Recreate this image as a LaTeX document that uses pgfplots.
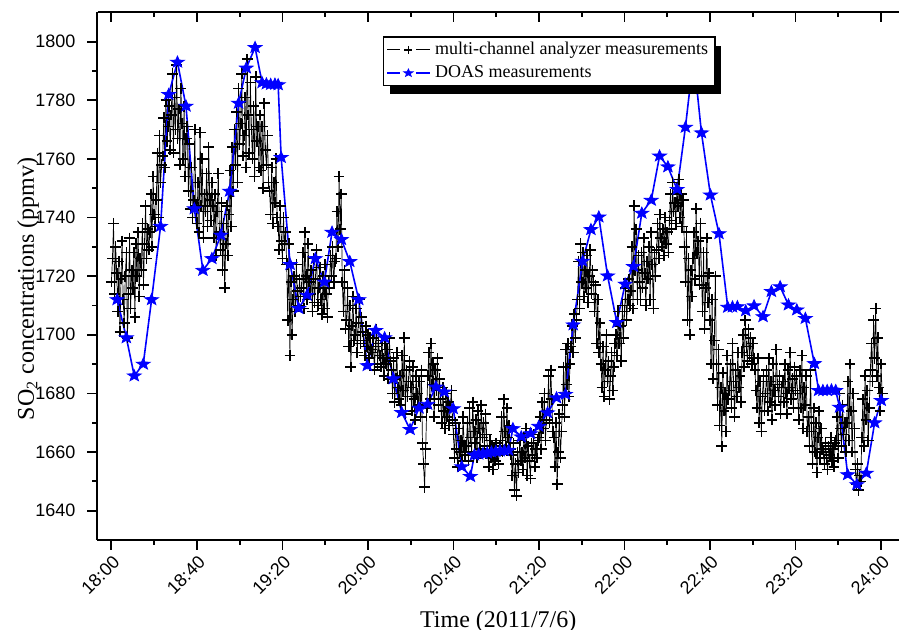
\documentclass[border=0pt]{standalone}
\usepackage{fontspec}
\setmainfont{Liberation Serif}
\setsansfont{Liberation Sans}
\usepackage{pgfplots}
\pgfplotsset{compat=1.18}
\pgfdeclareplotmark{fstar}{%
  \pgfpathmoveto{\pgfpointpolar{90}{\pgfplotmarksize}}%
  \pgfpathlineto{\pgfpointpolar{126}{0.42\pgfplotmarksize}}%
  \pgfpathlineto{\pgfpointpolar{162}{\pgfplotmarksize}}%
  \pgfpathlineto{\pgfpointpolar{198}{0.42\pgfplotmarksize}}%
  \pgfpathlineto{\pgfpointpolar{234}{\pgfplotmarksize}}%
  \pgfpathlineto{\pgfpointpolar{270}{0.42\pgfplotmarksize}}%
  \pgfpathlineto{\pgfpointpolar{306}{\pgfplotmarksize}}%
  \pgfpathlineto{\pgfpointpolar{342}{0.42\pgfplotmarksize}}%
  \pgfpathlineto{\pgfpointpolar{18}{\pgfplotmarksize}}%
  \pgfpathlineto{\pgfpointpolar{54}{0.42\pgfplotmarksize}}%
  \pgfpathclose\pgfusepathqfillstroke}
\definecolor{doas}{RGB}{0,0,255}
\begin{document}
\begin{tikzpicture}
\begin{axis}[
  at={(0,0)}, anchor=south west,
  scale only axis, width=400.75pt, height=263.85pt,
  xmin=-6.5, xmax=368.4, ymin=1630, ymax=1810,
  axis x line*=bottom, axis y line*=left,
  axis line style={line width=1pt, black},
  every tick/.style={black, line width=0.9pt},
  tick align=outside,
  major tick length=5pt, minor tick length=2.5pt,
  xtick={0,40,...,360}, minor xtick={20,60,...,340},
  xticklabels={18:00,18:40,19:20,20:00,20:40,21:20,22:00,22:40,23:20,24:00},
  ytick={1640,1660,...,1800}, minor ytick={1650,1670,...,1790},
  /pgf/number format/assume math mode=true,
  /pgf/number format/1000 sep={},
  yticklabel style={font=\sffamily\fontsize{9}{10}\selectfont, xshift=-2.5pt},
  xticklabel style={font=\sffamily\fontsize{9}{10}\selectfont, rotate=45, anchor=east, xshift=2pt, yshift=-5pt},
  xlabel={Time (2011/7/6)},
  ylabel={SO\textsubscript{2} concentrations (ppmv)},
  label style={font=\fontsize{12}{14}\selectfont},
  x label style={at={(axis description cs:0.5,-0.1545)}, anchor=center},
  y label style={at={(axis description cs:-0.0867,0.4757)}, anchor=center},
  legend style={at={(0.3562,0.9545)}, anchor=north west,
    font=\fontsize{9}{10.5}\selectfont, draw=black, line width=0.6pt, fill=white,
    inner xsep=1.5pt, inner ysep=0.6pt},
  legend cell align=left,
  legend image code/.code={%
    \draw[#1] (0pt,0pt) -- (6.5pt,0pt);
    \draw[#1] (14.5pt,0pt) -- (21.5pt,0pt);
    \draw[#1, mark size=2pt] plot coordinates {(10.5pt,0pt)};},
]
\addplot[black, line width=0.35pt, mark=+, mark size=2.7pt, mark options={line width=0.8pt}] coordinates {
(0,1718) (0.5,1726) (1,1738) (1.5,1714) (2,1730) (2.5,1721)
(3,1708) (3.5,1725) (4,1701) (4.5,1719) (5,1732) (5.5,1712)
(6,1704) (6.5,1720) (7,1728) (7.5,1699) (8,1714) (8.5,1733) (9,1709) (9.5,1722)
(10,1716) (10.5,1728) (11,1706) (11.5,1731) (12,1720) (12.5,1735) (13,1713) (13.5,1726)
(14,1722) (14.5,1738) (15,1717) (15.5,1731) (16,1744) (16.5,1726) (17,1736) (17.5,1729)
(18,1735) (18.5,1748) (19,1730) (19.5,1754) (20,1741) (20.5,1737)
(21,1746) (21.5,1762) (22,1740) (22.5,1768) (23,1752) (23.5,1758)
(24,1761) (24.5,1774) (25,1757) (25.5,1780) (26,1766) (26.5,1771) (27,1778) (27.5,1763)
(28,1775) (28.5,1789) (29,1762) (29.5,1781) (30,1770) (30.5,1792) (31,1767) (31.5,1777) (32,1758) (32.5,1784)
(33,1772) (33.5,1760) (34,1778) (34.5,1754) (35,1767) (35.5,1771)
(36,1749) (36.5,1765) (37,1743) (37.5,1757) (38,1740) (38.5,1746) (39,1770) (39.5,1744)
(40,1738) (40.5,1752) (41,1735) (41.5,1769) (42,1744) (42.5,1760) (43,1733) (43.5,1748)
(44,1742) (44.5,1755) (45,1737) (45.5,1764) (46,1746) (46.5,1739) (47,1752) (47.5,1744)
(48,1733) (48.5,1748) (49,1727) (49.5,1742) (50,1755) (50.5,1735) (51,1729) (51.5,1745)
(52,1722) (52.5,1738) (53,1716) (53.5,1731) (54,1744) (54.5,1727)
(55,1741) (55.5,1756) (56,1737) (56.5,1764) (57,1749) (57.5,1770)
(58,1758) (58.5,1776) (59,1752) (59.5,1784) (60,1765) (60.5,1772) (61,1789) (61.5,1761)
(62,1768) (62.5,1781) (63,1757) (63.5,1794) (64,1775) (64.5,1762) (65,1786) (65.5,1770)
(66,1760) (66.5,1778) (67,1754) (67.5,1788) (68,1766) (68.5,1771) (69,1757) (69.5,1775)
(70,1756) (70.5,1771) (71,1750) (71.5,1779) (72,1763) (72.5,1758) (73,1768) (73.5,1752)
(74,1749) (74.5,1741) (75,1757) (75.5,1738) (76,1752) (76.5,1745) (77,1760) (77.5,1740)
(78,1737) (78.5,1729) (79,1744) (79.5,1732) (80,1726) (80.5,1740) (81,1731) (81.5,1735)
(82,1724) (82.5,1705) (83,1731) (83.5,1693) (84,1718) (84.5,1700)
(85,1712) (85.5,1720) (86,1708) (86.5,1724) (87,1715) (87.5,1710) (88,1719) (88.5,1713)
(89,1716) (89.5,1728) (90,1709) (90.5,1735) (91,1720) (91.5,1712) (92,1731) (92.5,1718)
(93,1714) (93.5,1722) (94,1708) (94.5,1726) (95,1711) (95.5,1719) (96,1729) (96.5,1710) (97,1716) (97.5,1723)
(98,1712) (98.5,1707) (99,1720) (99.5,1709) (100,1724) (100.5,1714) (101,1706) (101.5,1718)
(102,1716) (102.5,1727) (103,1720) (103.5,1730) (104,1718) (104.5,1725)
(105,1726) (105.5,1742) (106,1730) (106.5,1754) (107,1736) (107.5,1748)
(108,1718) (108.5,1708) (109,1722) (109.5,1702)
(110,1705) (110.5,1716) (111,1696) (111.5,1710) (112,1689) (112.5,1703) (113,1713) (113.5,1698)
(114,1700) (114.5,1709) (115,1694) (115.5,1704) (116,1712) (116.5,1697) (117,1706) (117.5,1701)
(118,1698) (118.5,1693) (119,1703) (119.5,1696) (120,1700) (120.5,1692) (121,1699) (121.5,1695)
(122,1694) (122.5,1699) (123,1688) (123.5,1696) (124,1702) (124.5,1690) (125,1697) (125.5,1693) (126,1689) (126.5,1698)
(127,1692) (127.5,1686) (128,1697) (128.5,1690) (129,1695) (129.5,1685) (130,1699) (130.5,1691)
(131,1688) (131.5,1680) (132,1692) (132.5,1677) (133,1685) (133.5,1694) (134,1682) (134.5,1678)
(135,1686) (135.5,1676) (136,1693) (136.5,1681) (137,1699) (137.5,1673) (138,1688) (138.5,1679) (139,1684) (139.5,1691)
(140,1682) (140.5,1674) (141,1689) (141.5,1678) (142,1671) (142.5,1686) (143,1680) (143.5,1676)
(144,1684) (144.5,1672) (145,1688) (145.5,1663) (146,1656) (146.5,1648) (147,1661) (147.5,1675)
(148,1686) (148.5,1694) (149,1678) (149.5,1697) (150,1683) (150.5,1690) (151,1672) (151.5,1688) (152,1681) (152.5,1692) (153,1676) (153.5,1685)
(154,1678) (154.5,1670) (155,1682) (155.5,1674) (156,1668) (156.5,1680) (157,1672) (157.5,1677) (158,1669) (158.5,1675) (159,1681) (159.5,1671)
(160,1666) (160.5,1658) (161,1670) (161.5,1661) (162,1655) (162.5,1668) (163,1660) (163.5,1664) (164,1657) (164.5,1672) (165,1662) (165.5,1659)
(166,1662) (166.5,1670) (167,1657) (167.5,1675) (168,1665) (168.5,1660) (169,1677) (169.5,1667) (170,1663) (170.5,1671) (171,1658) (171.5,1674)
(172,1668) (172.5,1661) (173,1676) (173.5,1665) (174,1670) (174.5,1662) (175,1673) (175.5,1666)
(176,1660) (176.5,1655) (177,1664) (177.5,1658) (178,1662) (178.5,1654) (179,1661) (179.5,1657) (180,1663) (180.5,1659) (181,1656) (181.5,1662)
(182,1664) (182.5,1672) (183,1660) (183.5,1678) (184,1667) (184.5,1662) (185,1675) (185.5,1665) (186,1669) (186.5,1661)
(187,1659) (187.5,1652) (188,1663) (188.5,1647) (189,1656) (189.5,1645) (190,1660) (190.5,1653) (191,1664) (191.5,1657)
(192,1660) (192.5,1654) (193,1665) (193.5,1658) (194,1668) (194.5,1652) (195,1662) (195.5,1657) (196,1651) (196.5,1663) (197,1659) (197.5,1666) (198,1655) (198.5,1661) (199,1658) (199.5,1664)
(200,1665) (200.5,1672) (201,1661) (201.5,1677) (202,1668) (202.5,1680) (203,1664) (203.5,1671)
(204,1674) (204.5,1686) (205,1670) (205.5,1688) (206,1678) (206.5,1667)
(207,1665) (207.5,1655) (208,1670) (208.5,1649) (209,1660) (209.5,1673) (210,1658) (210.5,1667)
(211,1676) (211.5,1689) (212,1672) (212.5,1695) (213,1683) (213.5,1697) (214,1679) (214.5,1690)
(215,1696) (215.5,1703) (216,1694) (216.5,1707) (217,1699) (217.5,1705)
(218,1712) (218.5,1725) (219,1709) (219.5,1731) (220,1718) (220.5,1728) (221,1713) (221.5,1722)
(222,1716) (222.5,1727) (223,1711) (223.5,1720) (224,1729) (224.5,1714) (225,1722) (225.5,1718)
(226,1708) (226.5,1717) (227,1697) (227.5,1712) (228,1694) (228.5,1704)
(229,1690) (229.5,1682) (230,1696) (230.5,1679) (231,1688) (231.5,1700) (232,1684) (232.5,1691) (233,1678) (233.5,1686) (234,1694) (234.5,1681) (235,1689) (235.5,1697)
(236,1700) (236.5,1693) (237,1708) (237.5,1697) (238,1703) (238.5,1691) (239,1710) (239.5,1699)
(240,1708) (240.5,1716) (241,1705) (241.5,1712) (242,1719) (242.5,1710)
(243,1715) (243.5,1730) (244,1709) (244.5,1744) (245,1722) (245.5,1736) (246,1712) (246.5,1727)
(247,1718) (247.5,1712) (248,1728) (248.5,1716) (249,1733) (249.5,1721) (250,1710) (250.5,1725)
(251,1719) (251.5,1730) (252,1712) (252.5,1735) (253,1724) (253.5,1709) (254,1728) (254.5,1720)
(255,1729) (255.5,1738) (256,1726) (256.5,1741) (257,1733) (257.5,1730) (258,1736) (258.5,1727) (259,1740) (259.5,1731) (260,1735) (260.5,1728)
(261,1739) (261.5,1748) (262,1736) (262.5,1752) (263,1742) (263.5,1745) (264,1738) (264.5,1750)
(265,1744) (265.5,1753) (266,1740) (266.5,1748) (267,1737) (267.5,1746)
(268,1730) (268.5,1718) (269,1735) (269.5,1705) (270,1726) (270.5,1700) (271,1722) (271.5,1713)
(272,1726) (272.5,1735) (273,1719) (273.5,1743) (274,1728) (274.5,1732) (275,1717) (275.5,1738)
(276,1720) (276.5,1708) (277,1728) (277.5,1702) (278,1716) (278.5,1733) (279,1711) (279.5,1721)
(280,1705) (280.5,1690) (281,1712) (281.5,1685) (282,1698) (282.5,1720)
(283,1690) (283.5,1676) (284,1695) (284.5,1669) (285,1682) (285.5,1662) (286,1687) (286.5,1674) (287,1680) (287.5,1667) (288,1693) (288.5,1678)
(289,1681) (289.5,1690) (290,1675) (290.5,1697) (291,1684) (291.5,1672) (292,1688) (292.5,1679) (293,1694) (293.5,1682) (294,1686) (294.5,1677)
(295,1694) (295.5,1700) (296,1689) (296.5,1705) (297,1696) (297.5,1691) (298,1702) (298.5,1693) (299,1699) (299.5,1690) (300,1697) (300.5,1692)
(301,1688) (301.5,1681) (302,1675) (302.5,1692) (303,1670) (303.5,1684) (304,1667) (304.5,1679) (305,1686) (305.5,1674)
(306,1680) (306.5,1688) (307,1674) (307.5,1692) (308,1677) (308.5,1684) (309,1671) (309.5,1690) (310,1681) (310.5,1676) (311,1695) (311.5,1683) (312,1679) (312.5,1686) (313,1673) (313.5,1682)
(314,1684) (314.5,1677) (315,1690) (315.5,1680) (316,1673) (316.5,1688) (317,1682) (317.5,1694) (318,1678) (318.5,1685) (319,1675) (319.5,1689) (320,1681) (320.5,1686)
(321,1680) (321.5,1671) (322,1688) (322.5,1675) (323,1693) (323.5,1668) (324,1682) (324.5,1676) (325,1686) (325.5,1667)
(326,1672) (326.5,1662) (327,1688) (327.5,1667) (328,1656) (328.5,1675) (329,1660) (329.5,1670) (330,1653) (330.5,1665) (331,1674) (331.5,1658) (332,1668) (332.5,1661)
(333,1660) (333.5,1656) (334,1663) (334.5,1658) (335,1654) (335.5,1662) (336,1659) (336.5,1665) (337,1657) (337.5,1661) (338,1655) (338.5,1663)
(339,1664) (339.5,1672) (340,1658) (340.5,1680) (341,1668) (341.5,1662) (342,1676) (342.5,1666) (343,1670) (343.5,1660)
(344,1670) (344.5,1684) (345,1664) (345.5,1690) (346,1674) (346.5,1660) (347,1680) (347.5,1668)
(348,1654) (348.5,1649) (349,1656) (349.5,1647) (350,1652) (350.5,1650)
(351,1665) (351.5,1678) (352,1662) (352.5,1686) (353,1671) (353.5,1681) (354,1664) (354.5,1675)
(355,1688) (355.5,1697) (356,1684) (356.5,1705) (357,1692) (357.5,1709) (358,1686) (358.5,1699)
(359,1682) (359.5,1674) (360,1690) (360.5,1680)
};
\addlegendentry{multi-channel analyzer measurements}
\addplot[doas, line width=0.8pt, mark=fstar, mark size=3pt, mark options={fill=doas, draw=doas, line width=0.4pt, xscale=1.2}] coordinates {
(2.7,1712) (7,1699) (10.7,1686) (14.9,1690) (18.8,1712) (23,1737) (26.8,1782) (30.9,1793) (34.9,1778) (38.8,1743) (42.8,1722) (47,1726) (51.2,1734) (55.3,1749) (59.5,1779) (63.1,1791) (67.2,1798) (70.5,1786) (72.5,1785.6) (74.5,1785.4) (76.5,1785.5) (78,1785.3) (79.4,1760.5)
(83.6,1724) (87.6,1709) (91.5,1713.5) (95.4,1726) (99.6,1718) (103.2,1735) (107.6,1732.5) (111.5,1725) (115.7,1712) (119.7,1689.5) (123.6,1701.5) (127.8,1699) (131.9,1685) (135.8,1673.5) (139.7,1667.7) (143.9,1675) (147.9,1676.3) (151.8,1682.2) (155.7,1680.5) (159.9,1674.8) (163.9,1655) (167.9,1651.7)
(169.8,1659) (171.8,1659.3) (173.8,1659.5) (175.8,1659.7) (177.8,1660) (179.8,1660.2) (181.8,1660.4) (183.8,1660.5) (185.8,1660.6) (187.8,1668) (191.7,1665.2) (196.1,1666.3) (199.9,1668.8) (204,1673.4) (208.2,1678.5) (212.4,1679.7) (216,1703.4) (220.4,1725.1) (224.3,1735.9) (228,1740.2) (232.1,1720.1) (236.4,1704.2) (240.3,1717.3) (244.2,1723.3) (248.1,1741.5) (252.5,1745.9) (256.4,1761) (260.3,1757.3) (264.6,1749.6) (268.5,1770.8) (272.3,1795) (276,1768.9) (280.2,1747.7) (284.2,1734.5)
(288.3,1709.4) (290.5,1709.5) (292.8,1709.6) (296.7,1708.2) (300.6,1709.9) (304.8,1706.2) (308.7,1714.8) (312.8,1716.4) (316.7,1710.2) (320.6,1708.5) (324.6,1705.6) (328.8,1690.2) (330.8,1681) (332.8,1681) (334.8,1681) (336.8,1681.2) (338.8,1681) (340.6,1675.3) (344.4,1652.3) (348.7,1648.9) (353.1,1652.8) (357,1670) (360.1,1677.6)
};
\addlegendentry{DOAS measurements}
\fill[black] (axis description cs:0.3645,0.9370) rectangle (axis description cs:0.7785,0.8455);
\end{axis}
\begin{axis}[
  at={(0,0)}, anchor=south west,
  scale only axis, width=400.75pt, height=263.85pt,
  xmin=-6.5, xmax=368.4, ymin=1630, ymax=1810,
  axis x line*=top, axis y line=none,
  axis line style={line width=1pt, black},
  every tick/.style={black, line width=0.9pt},
  tick align=inside,
  major tick length=5pt, minor tick length=2.5pt,
  xtick={0,40,...,360}, minor xtick={20,60,...,340},
  xticklabels={},
]
\end{axis}
\pgfresetboundingbox
\path (-48.75pt,-45pt) rectangle (400.75pt,270pt);
\end{tikzpicture}
\end{document}
